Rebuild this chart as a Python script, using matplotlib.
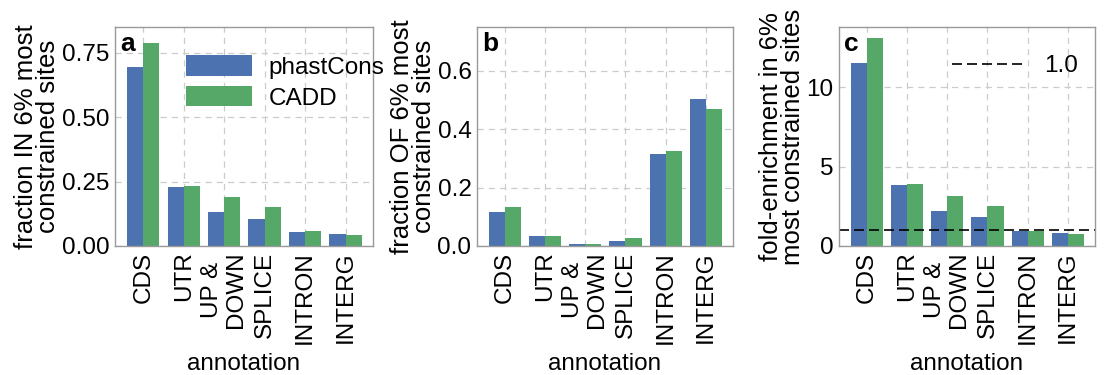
import numpy as np
import matplotlib
matplotlib.use("Agg")
import matplotlib.pyplot as plt

plt.rcParams['font.family'] = ['Liberation Sans', 'DejaVu Sans']

categories = ["CDS", "UTR", "UP &\nDOWN", "SPLICE", "INTRON", "INTERG"]

# a: fraction IN 6% most constrained sites
in_phastcons = [0.693, 0.229, 0.133, 0.106, 0.056, 0.048]
in_cadd = [0.786, 0.234, 0.190, 0.150, 0.058, 0.044]

# b: fraction OF 6% most constrained sites
of_phastcons = [0.118, 0.034, 0.006, 0.018, 0.316, 0.503]
of_cadd = [0.133, 0.034, 0.007, 0.026, 0.325, 0.469]

# c: fold-enrichment
fold_phastcons = [11.55, 3.82, 2.22, 1.81, 0.95, 0.80]
fold_cadd = [13.13, 3.90, 3.17, 2.52, 0.96, 0.74]

blue = '#4C72B0'
green = '#55A868'

fig = plt.figure(figsize=(11.04, 3.75), dpi=100)
W, H = 1104, 375

def box(l, r, t, b):
    return [l / W, (H - b) / H, (r - l) / W, (b - t) / H]

axes = [fig.add_axes(box(115, 373, 27, 246)),
        fig.add_axes(box(477, 733, 27, 246)),
        fig.add_axes(box(839, 1095, 27, 246))]

panels = [
    (in_phastcons, in_cadd, (0, 0.85), [0, 0.25, 0.5, 0.75], "%.2f",
     "fraction IN 6% most\nconstrained sites", "a"),
    (of_phastcons, of_cadd, (0, 0.75), [0, 0.2, 0.4, 0.6], "%.1f",
     "fraction OF 6% most\nconstrained sites", "b"),
    (fold_phastcons, fold_cadd, (0, 13.8), [0, 5, 10], "%d",
     "fold-enrichment in 6%\nmost constrained sites", "c"),
]

x = np.arange(len(categories))
w = 0.4
for ax, (p, c, ylim, yt, fmt, ylab, letter) in zip(axes, panels):
    ax.set_axisbelow(True)
    ax.grid(True, color='#cccccc', linestyle=(0, (5, 4)), linewidth=0.9)
    ax.bar(x - w / 2, p, w, color=blue, label='phastCons')
    ax.bar(x + w / 2, c, w, color=green, label='CADD')
    ax.set_xlim(-0.7, 5.68)
    ax.set_ylim(*ylim)
    ax.set_yticks(yt)
    ax.set_yticklabels([fmt % v for v in yt])
    ax.set_xticks(x)
    ax.set_xticklabels(categories, rotation=90, va='top', ha='center',
                       linespacing=1.1)
    ax.tick_params(axis='both', length=0, labelsize=17.5, pad=4)
    ax.set_xlabel("annotation", fontsize=17.5, labelpad=6)
    ax.set_ylabel(ylab, fontsize=18.5, linespacing=0.9, labelpad=1)
    for s in ax.spines.values():
        s.set_color('#999999')
        s.set_linewidth(1.0)
    ax.text(0.02, 0.975, letter, transform=ax.transAxes, fontsize=19,
            fontweight='bold', va='top', ha='left')

axes[0].legend(loc='upper left', bbox_to_anchor=(0.19, 0.97), frameon=False,
               fontsize=17.5, handlelength=2.7, handleheight=0.9,
               labelspacing=0.3, handletextpad=0.7)

line = axes[2].axhline(1.0, color='black', linestyle=(0, (6, 3)),
                       linewidth=1.2, label='1.0')
axes[2].legend(handles=[line], loc='upper right', bbox_to_anchor=(1.02, 0.97),
               frameon=False, fontsize=17.5, handlelength=2.9,
               handletextpad=0.9)

fig.savefig("out.png", dpi=100)
